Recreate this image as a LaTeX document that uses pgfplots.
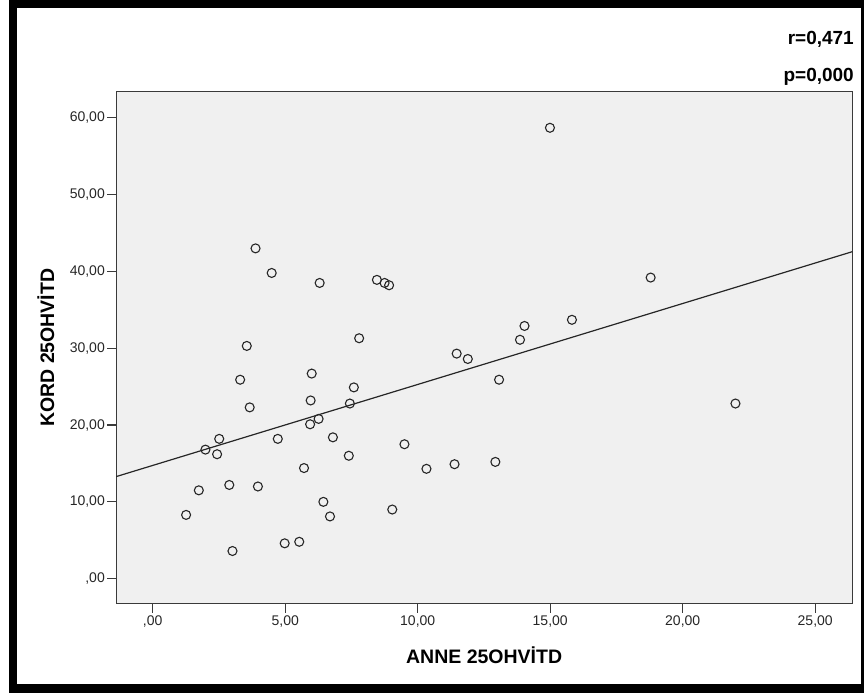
\documentclass[border=0pt]{standalone}
\usepackage{pgfplots}
\pgfplotsset{compat=1.18}
\usepackage{fontspec}
\setmainfont{Liberation Sans}
\definecolor{plotbg}{HTML}{F0F0F0}
\definecolor{axisgray}{HTML}{3A3A3A}
\begin{document}
\begin{tikzpicture}[x=1bp,y=1bp]
\useasboundingbox (0,0) rectangle (864,693);
\draw[line width=8.5bp,black] (13,4.5) rectangle (865,689);
\begin{axis}[
  at={(116bp,89.3bp)}, anchor=south west,
  scale only axis, width=736.3bp, height=512bp,
  xmin=-1.385, xmax=26.4, ymin=-3.26, ymax=63.4,
  axis background/.style={fill=plotbg},
  axis line style={draw=axisgray, line width=0.9bp},
  xtick={0,5,10,15,20,25},
  xticklabels={{,00},{5,00},{10,00},{15,00},{20,00},{25,00}},
  ytick={0,10,20,30,40,50,60},
  yticklabels={{,00},{10,00},{20,00},{30,00},{40,00},{50,00},{60,00}},
  tick align=outside, xtick pos=bottom, ytick pos=left,
  major tick length=9bp,
  tick style={draw=axisgray, line width=1.2bp},
  ticklabel style={font=\fontsize{14bp}{16bp}\selectfont, text=black!85},
  xticklabel style={inner sep=3bp},
  yticklabel style={inner sep=2bp},
  xlabel={ANNE 25OHVİTD},
  ylabel={KORD 25OHVİTD},
  label style={font=\bfseries\fontsize{19.5bp}{22bp}\selectfont},
  xlabel style={at={(axis description cs:0.5,-0.1002)}, anchor=center},
  ylabel style={at={(axis description cs:-0.0951,0.5)}, anchor=center},
  clip=true,
]
\addplot[only marks, mark=o, mark size=4.5bp, mark options={line width=1.1bp, draw=black!85}] coordinates {
(14.99,58.7) (3.88,43.0) (4.49,39.8) (6.30,38.5) (8.46,38.9) (8.75,38.5)
(8.92,38.2) (18.79,39.2) (15.82,33.7) (14.03,32.9) (13.86,31.1) (7.79,31.3)
(3.55,30.3) (11.47,29.3) (11.89,28.6) (3.30,25.9) (6.00,26.7) (7.59,24.9)
(13.07,25.9) (5.96,23.2) (7.44,22.8) (21.99,22.8) (3.66,22.3) (6.26,20.8)
(5.94,20.1) (2.51,18.2) (4.72,18.2) (6.80,18.4) (1.99,16.8) (2.43,16.2)
(9.50,17.5) (7.40,16.0) (5.71,14.4) (10.33,14.3) (11.39,14.9) (12.93,15.2)
(1.74,11.5) (2.89,12.2) (3.97,12.0) (6.44,10.0) (1.26,8.3) (6.69,8.1)
(9.04,9.0) (4.98,4.6) (5.53,4.8) (3.01,3.6)
};
\addplot[draw=black!85, line width=1.2bp] coordinates {(-1.385,13.28) (26.4,42.57)};
\end{axis}
\node[anchor=east, inner sep=0pt, font=\bfseries\fontsize{19bp}{22bp}\selectfont] at (854,654) {r=0,471};
\node[anchor=east, inner sep=0pt, font=\bfseries\fontsize{19bp}{22bp}\selectfont] at (854,616) {p=0,000};
\end{tikzpicture}
\end{document}
